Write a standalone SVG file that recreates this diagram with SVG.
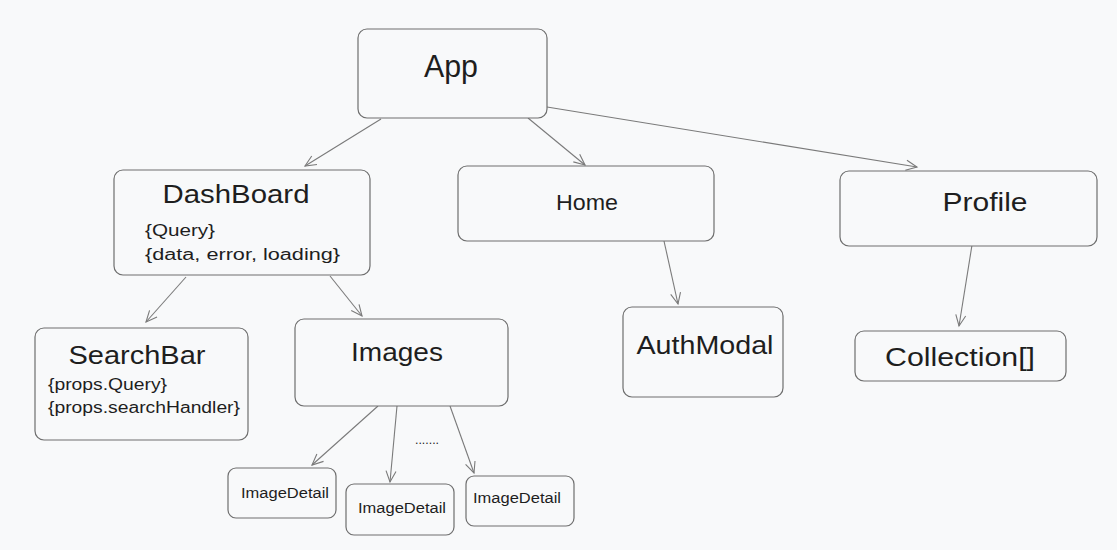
<svg xmlns="http://www.w3.org/2000/svg" width="1117" height="550" viewBox="0 0 1117 550">
<defs>
<style>
.box{fill:#f8f9fa;stroke:#6e6e6e;stroke-width:1.2}
.t{font-family:"Liberation Sans","Noto Sans",sans-serif;fill:#1e1e1e}
.c{text-anchor:middle}
.edge{stroke:#7a7a7a;stroke-width:1.1;fill:none;marker-end:url(#ah)}
</style>
<marker id="ah" markerWidth="14" markerHeight="12" refX="12" refY="6" orient="auto" markerUnits="userSpaceOnUse">
<path d="M1,1 L12,6 L1,11" fill="none" stroke="#7a7a7a" stroke-width="1.1"/>
</marker>
</defs>
<rect width="1117" height="550" fill="#f8f9fa"/>
<g id="connectors">
<line class="edge" x1="381" y1="119" x2="305" y2="166"/>
<line class="edge" x1="528" y1="118" x2="585" y2="165"/>
<line class="edge" x1="547" y1="107" x2="917" y2="167"/>
<line class="edge" x1="186" y1="277" x2="146" y2="322"/>
<line class="edge" x1="330" y1="276" x2="362" y2="316"/>
<line class="edge" x1="664" y1="241" x2="678" y2="304"/>
<line class="edge" x1="972" y1="245" x2="959" y2="326"/>
<line class="edge" x1="378" y1="406" x2="312" y2="465"/>
<line class="edge" x1="397" y1="406" x2="390" y2="482"/>
<line class="edge" x1="450" y1="406" x2="474" y2="473"/>
</g>
<g id="app"><rect class="box" x="358" y="29" width="189" height="89" rx="9"/><text class="t c" x="451" y="77" font-size="32" textLength="54" lengthAdjust="spacingAndGlyphs">App</text></g>
<g id="dashboard"><rect class="box" x="114" y="170" width="256" height="105" rx="9"/><text class="t c" x="236" y="203" font-size="26" textLength="147" lengthAdjust="spacingAndGlyphs">DashBoard</text><text class="t" x="145" y="236" font-size="16" textLength="70" lengthAdjust="spacingAndGlyphs">{Query}</text><text class="t" x="145" y="260" font-size="16" textLength="195" lengthAdjust="spacingAndGlyphs">{data, error, loading}</text></g>
<g id="home"><rect class="box" x="458" y="166" width="256" height="75" rx="9"/><text class="t c" x="587" y="210" font-size="22" textLength="62" lengthAdjust="spacingAndGlyphs">Home</text></g>
<g id="profile"><rect class="box" x="840" y="171" width="257" height="75" rx="9"/><text class="t c" x="985" y="211" font-size="25" textLength="85" lengthAdjust="spacingAndGlyphs">Profile</text></g>
<g id="searchbar"><rect class="box" x="35" y="328" width="213" height="112" rx="9"/><text class="t c" x="137" y="364" font-size="26" textLength="137" lengthAdjust="spacingAndGlyphs">SearchBar</text><text class="t" x="48" y="390" font-size="16" textLength="119" lengthAdjust="spacingAndGlyphs">{props.Query}</text><text class="t" x="48" y="413" font-size="16" textLength="192" lengthAdjust="spacingAndGlyphs">{props.searchHandler}</text></g>
<g id="images"><rect class="box" x="295" y="319" width="213" height="87" rx="9"/><text class="t c" x="397" y="361" font-size="25" textLength="92" lengthAdjust="spacingAndGlyphs">Images</text></g>
<g id="authmodal"><rect class="box" x="623" y="307" width="160" height="90" rx="9"/><text class="t c" x="705" y="354" font-size="25" textLength="137" lengthAdjust="spacingAndGlyphs">AuthModal</text></g>
<g id="collection"><rect class="box" x="855" y="331" width="211" height="50" rx="9"/><text class="t c" x="960" y="366" font-size="25" textLength="150" lengthAdjust="spacingAndGlyphs">Collection[]</text></g>
<g id="imagedetail1"><rect class="box" x="228" y="468" width="108" height="50" rx="8"/><text class="t c" x="285" y="498" font-size="14" textLength="88" lengthAdjust="spacingAndGlyphs">ImageDetail</text></g>
<g id="imagedetail2"><rect class="box" x="346" y="484" width="108" height="51" rx="8"/><text class="t c" x="402" y="513" font-size="14" textLength="88" lengthAdjust="spacingAndGlyphs">ImageDetail</text></g>
<g id="imagedetail3"><rect class="box" x="466" y="476" width="108" height="50" rx="8"/><text class="t c" x="517" y="503" font-size="14" textLength="88" lengthAdjust="spacingAndGlyphs">ImageDetail</text></g>
<text class="t c" x="427" y="444" font-size="12" textLength="24" lengthAdjust="spacingAndGlyphs">.......</text>
</svg>
